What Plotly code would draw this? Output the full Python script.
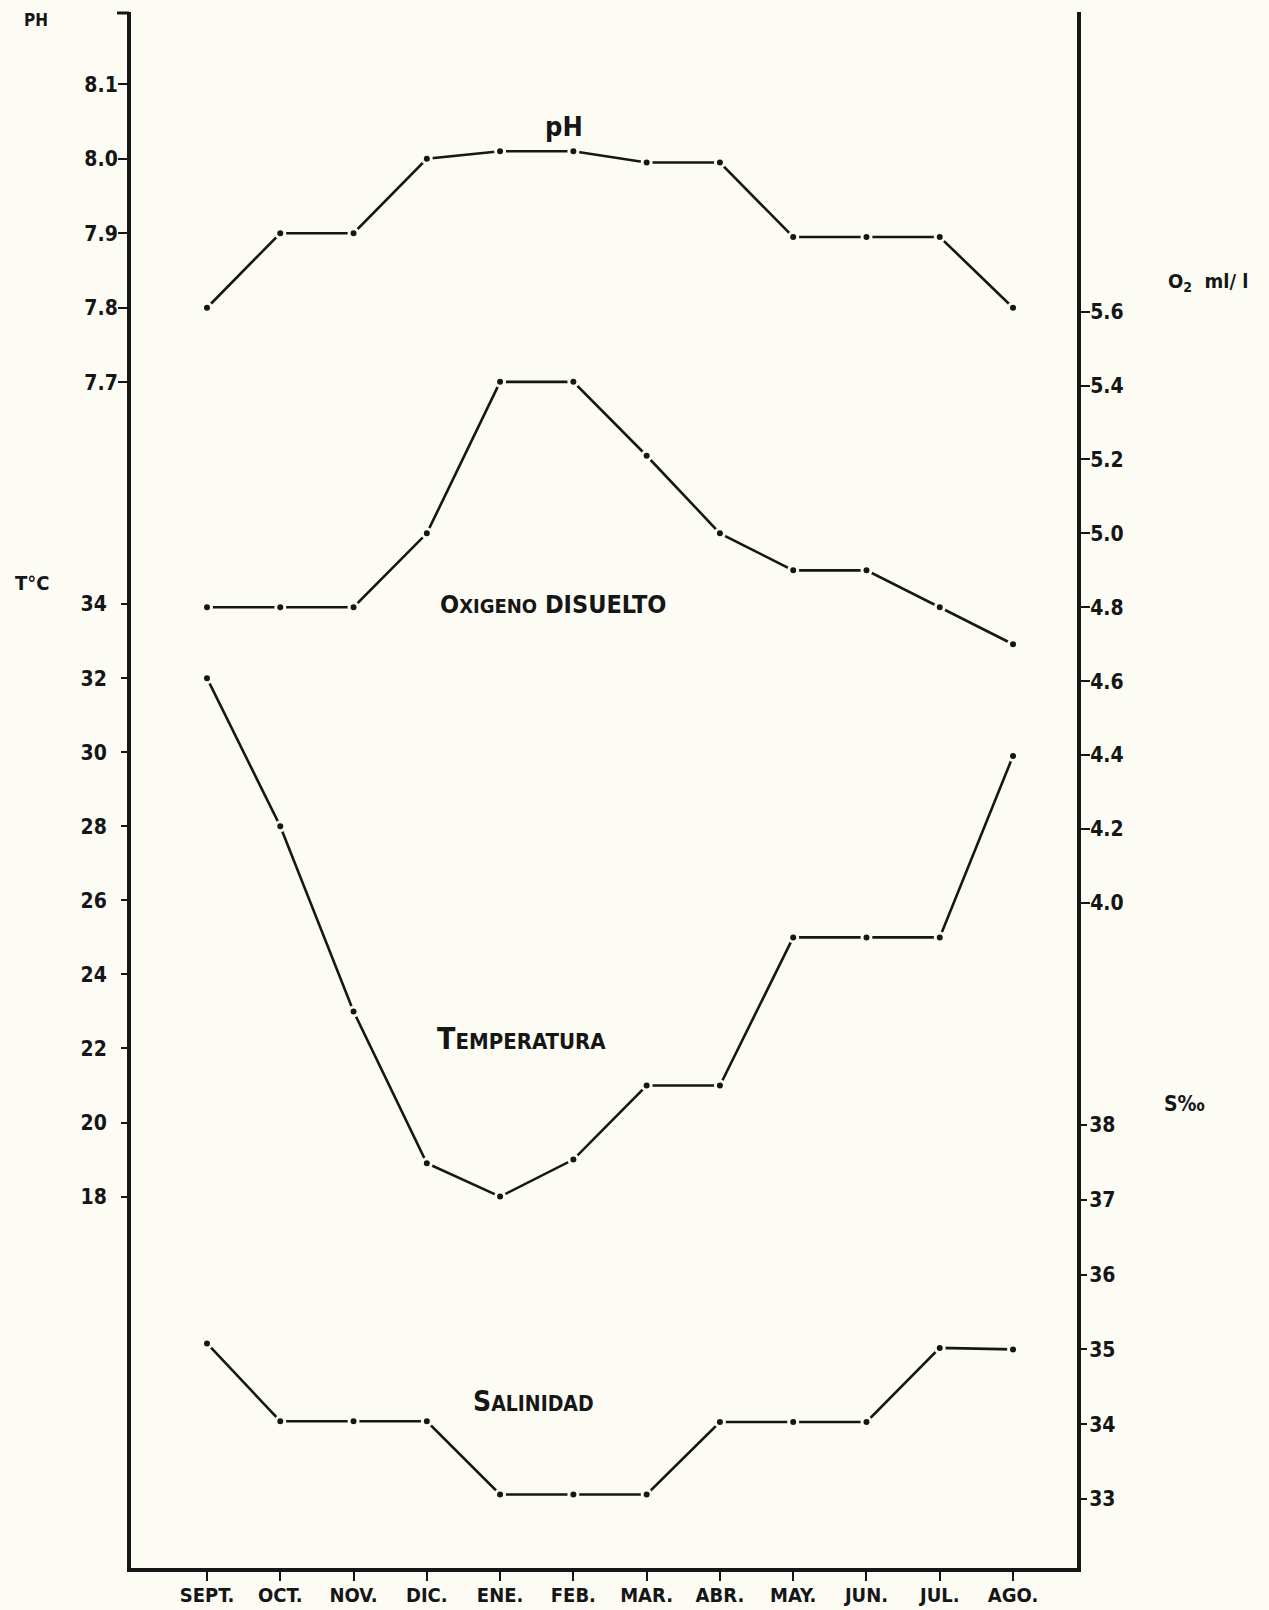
import plotly.graph_objects as go

# ---------------- data ----------------
months = ["SEPT.", "OCT.", "NOV.", "DIC.", "ENE.", "FEB.", "MAR.", "ABR.", "MAY.", "JUN.", "JUL.", "AGO."]
ph = [7.80, 7.90, 7.90, 8.00, 8.01, 8.01, 7.995, 7.995, 7.895, 7.895, 7.895, 7.80]
oxigeno = [4.80, 4.80, 4.80, 5.00, 5.41, 5.41, 5.21, 5.00, 4.90, 4.90, 4.80, 4.70]
temperatura = [32.0, 28.0, 23.0, 18.9, 18.0, 19.0, 21.0, 21.0, 25.0, 25.0, 25.0, 29.9]
salinidad = [35.08, 34.04, 34.04, 34.04, 33.06, 33.06, 33.06, 34.03, 34.03, 34.03, 35.02, 35.00]

ph_ticks = [7.7, 7.8, 7.9, 8.0, 8.1]
temp_ticks = [18, 20, 22, 24, 26, 28, 30, 32, 34]
o2_ticks = [4.0, 4.2, 4.4, 4.6, 4.8, 5.0, 5.2, 5.4, 5.6]
sal_ticks = [33, 34, 35, 36, 37, 38]

# ---------------- layout geometry ----------------
W, H = 1269, 1610
L, R, T, B = 131, 1077, 12, 1568
BG = "#fcfcf5"
INK = "#161616"
COND = "DejaVu Sans Condensed, DejaVu Sans"
HAND = "Liberation Sans Narrow, DejaVu Sans Condensed, Roboto, DejaVu Sans, sans-serif"


def pxx(p):
    return (p - L) / (R - L)


def pxy(p):
    return (B - p) / (B - T)


fig = go.Figure()

series = [
    (ph, "y"),
    (oxigeno, "y3"),
    (temperatura, "y2"),
    (salinidad, "y4"),
]
for vals, yax in series:
    fig.add_trace(go.Scatter(
        x=months, y=vals, yaxis=yax, mode="lines+markers",
        line=dict(color=INK, width=2.6),
        marker=dict(size=9, color=INK, line=dict(color=BG, width=3)),
        showlegend=False, hoverinfo="x+y",
    ))

tickfont = dict(family=COND, size=21, color=INK, weight="bold")
common_y = dict(showgrid=False, zeroline=False, ticks="outside", ticklen=9,
                tickwidth=2, tickcolor=INK, tickfont=tickfont, automargin=False)

fig.update_layout(
    width=W, height=H, autosize=False,
    margin=dict(l=L, r=W - R, t=T, b=H - B, autoexpand=False),
    paper_bgcolor=BG, plot_bgcolor=BG,
    xaxis=dict(
        type="category", range=[-1.037, 11.873], automargin=False,
        showline=True, linecolor=INK, linewidth=4,
        ticks="outside", ticklen=9, tickwidth=2, tickcolor=INK,
        showgrid=False, zeroline=False,
        tickfont=dict(family=COND, size=20, color=INK, weight="bold"),
        ticklabelstandoff=-3,
    ),
    yaxis=dict(
        range=[6.1084, 8.1970], side="left",
        tickvals=ph_ticks, ticktext=[f"{v:.1f}" for v in ph_ticks],
        showline=True, linecolor=INK, linewidth=4, ticklabelstandoff=-4,
        **common_y,
    ),
    yaxis2=dict(
        range=[7.97, 49.99], side="left", overlaying="y", anchor="x",
        tickvals=temp_ticks, ticktext=[str(v) for v in temp_ticks],
        showline=False, ticklabelstandoff=10,
        **common_y,
    ),
    yaxis3=dict(
        range=[2.2007, 6.4106], side="right", overlaying="y", anchor="x",
        tickvals=o2_ticks, ticktext=[f"{v:.1f}" for v in o2_ticks],
        showline=True, linecolor=INK, linewidth=4, ticklabelstandoff=-4,
        **common_y,
    ),
    yaxis4=dict(
        range=[32.0775, 52.880], side="right", overlaying="y", anchor="x",
        tickvals=sal_ticks, ticktext=[str(v) for v in sal_ticks],
        showline=False, ticklabelstandoff=-2,
        **common_y,
    ),
)

# small hook at the top of the left axis
fig.add_shape(type="line", xref="paper", yref="paper",
              x0=pxx(117), x1=pxx(L - 2), y0=pxy(T + 1), y1=pxy(T + 1),
              line=dict(color=INK, width=3))


def note(text, x, y, size, family=COND, bold=True):
    fig.add_annotation(text=text, xref="paper", yref="paper",
                       x=pxx(x), y=pxy(y), xanchor="center", yanchor="middle",
                       showarrow=False,
                       font=dict(family=family, size=size, color=INK,
                                 weight="bold" if bold else "normal"))


# axis titles
note("PH", 36, 20, 17)
note("T°C", 32, 583, 20)
note("O<sub>2</sub>  ml/ l", 1208, 282, 20)
note("S‰", 1184, 1104, 21)


# hand-lettered curve labels (small caps look)
def sc(first, rest, small):
    return f"{first}<span style='font-size:{small}px'>{rest}</span>"


note("pH", 564, 126, 27, HAND)
note(sc("O", "XIGENO", 20) + " DISUELTO", 553, 605, 25, HAND)
note(sc("T", "EMPERATURA", 22), 521, 1038, 30, HAND)
note(sc("S", "ALINIDAD", 21), 533, 1401, 28, HAND)

fig.write_html(
    "out.html",
    config={"displayModeBar": False},
    post_script=f"document.body.style.margin='0px';document.body.style.background='{BG}';",
)
